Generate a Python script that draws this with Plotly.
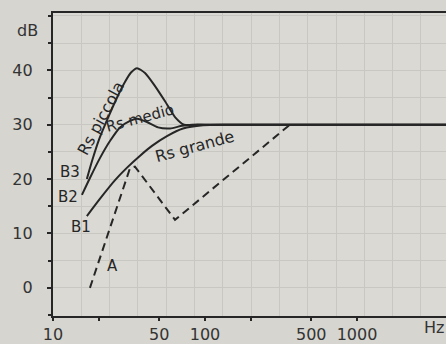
import plotly.graph_objects as go

# ---- data (frequency in Hz, level in dB) ----
piccola_f = [16.7, 18.1, 20.1, 23.0, 26.4, 29.8, 32.6, 35.7, 40.3, 46.9, 54.6, 63.5, 72.8, 95, 4000]
piccola_db = [20.0, 23.4, 27.3, 31.25, 35.0, 37.9, 39.6, 40.4, 39.5, 37.1, 34.3, 31.4, 30.0, 30.0, 30.0]

medio_f = [15.5, 17.5, 20.4, 23.7, 27.6, 32.1, 35.7, 41.5, 49.1, 58.9, 70.6, 82.1, 110, 4000]
medio_db = [17.1, 20.2, 23.9, 27.0, 29.5, 30.7, 31.1, 30.5, 29.5, 29.3, 29.8, 30.0, 30.0, 30.0]

grande_f = [16.7, 20.4, 25.6, 30.7, 37.4, 44.8, 56.2, 71.7, 97.0, 135.4, 180, 4000]
grande_db = [13.2, 16.4, 19.8, 22.1, 24.3, 26.1, 27.9, 29.3, 29.9, 30.0, 30.0, 30.0]

a_f = [17.5, 32.1, 34.6, 63.5, 362]
a_db = [0.0, 22.0, 22.3, 12.5, 30.0]

x_tickvals = [10, 20, 50, 100, 200, 500, 1000]
x_ticktext = ["10", "", "50", "100", "", "500", "1000"]
y_tickvals = [0, 10, 20, 30, 40]
y_ticktext = ["0", "10", "20", "30", "40"]

# ---- layout geometry ----
W, H = 446, 344
L, R, T, B = 53, 0, 13, 19
PW, PH = W - L - R, H - T - B

def px(x):
    return (x - L) / PW

def py(y):
    return (H - B - y) / PH

INK = "#262626"
LINE_W = 2
GRID = "#c8c7c1"
PAD = "\u2002\u2009"  # keeps y labels further from the axis

fig = go.Figure()
# base (graph-paper) subplot
fig.add_trace(go.Scatter(x=[], y=[], showlegend=False, hoverinfo="skip"))

for f, db in [(piccola_f, piccola_db), (medio_f, medio_db), (grande_f, grande_db)]:
    fig.add_trace(go.Scatter(x=f, y=db, xaxis="x2", yaxis="y", mode="lines",
                             line=dict(color=INK, width=LINE_W, shape="spline", smoothing=0.6),
                             showlegend=False, hoverinfo="skip"))
fig.add_trace(go.Scatter(x=a_f, y=a_db, xaxis="x2", yaxis="y", mode="lines",
                         line=dict(color=INK, width=LINE_W, dash="8px,5px"),
                         showlegend=False, hoverinfo="skip"))

tickfont = dict(family="DejaVu Sans", size=16, color="#333333")
labfont = dict(family="DejaVu Sans", size=15, color=INK)

ann = []
def add(text, x, y, angle=0, font=labfont, xanchor="center", yanchor="middle"):
    ann.append(dict(text=text, x=px(x), y=py(y), xref="paper", yref="paper",
                    showarrow=False, textangle=angle, font=font,
                    xanchor=xanchor, yanchor=yanchor))

add("dB", 27, 31, font=dict(family="DejaVu Sans", size=16, color="#333333"))
add("Hz", 446, 337, font=tickfont, xanchor="right")
add("Rs piccola", 101, 122, angle=-62, font=dict(family="DejaVu Sans", size=16, color=INK))
add("Rs medio", 140, 121, angle=-15)
add("Rs grande", 194, 150, angle=-15, font=dict(family="DejaVu Sans", size=16, color=INK))
add("B3", 70, 177)
add("B2", 68, 202)
add("B1", 81, 233)
add("A", 112, 273)

fig.update_layout(
    width=W, height=H,
    margin=dict(l=L, r=R, t=T, b=B, pad=0),
    paper_bgcolor="#d6d5cf",
    plot_bgcolor="#dad9d4",
    annotations=ann,
    xaxis=dict(type="linear", range=[0, PW / 28.3], dtick=1, tick0=0,
               showgrid=True, gridcolor=GRID, gridwidth=1,
               side="top", showline=True, linecolor=INK, linewidth=LINE_W,
               ticks="", showticklabels=False, zeroline=False, fixedrange=True),
    xaxis2=dict(type="log", range=[1, 1 + PW / 152], overlaying="x", anchor="y", side="bottom",
                tickvals=x_tickvals, ticktext=x_ticktext, ticks="outside", ticklen=3,
                tickcolor=INK, tickwidth=1.5, tickfont=tickfont,
                showline=True, linecolor=INK, linewidth=LINE_W, showgrid=False, zeroline=False),
    yaxis=dict(range=[-5.18, 50.54], tickvals=y_tickvals,
               ticktext=[t + PAD for t in y_ticktext],
               ticks="outside", ticklen=4, tickcolor=INK, tickwidth=1.5, tickfont=tickfont,
               showline=True, linecolor=INK, linewidth=LINE_W,
               showgrid=True, gridcolor=GRID, gridwidth=1, zeroline=False,
               minor=dict(dtick=5, tick0=0, ticks="outside", ticklen=3, tickcolor=INK,
                          showgrid=True, gridcolor=GRID)),
)

fig.write_html("out.html", config={"displayModeBar": False},
               post_script="document.body.style.margin='0';document.body.style.overflow='hidden';")
